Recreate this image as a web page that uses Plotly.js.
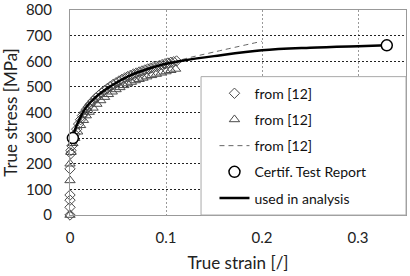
<!DOCTYPE html>
<html>
<head>
<meta charset="utf-8">
<script src="https://cdn.plot.ly/plotly-3.0.1.min.js"></script>
<style>html,body{margin:0;padding:0;background:#fff;}#chart{width:410px;height:276px;}</style>
</head>
<body>
<div id="chart"></div>
<script>
// Series "from [12]" (diamonds)
const diamondStrain = [0,0,0,0,0,0.001,0.001,0.002,0.003,0.005,0.007,0.009,0.011,0.013,0.015,0.017,0.019,0.021,0.024,0.027,0.030,0.033,0.036,0.039,0.042,0.045,0.048,0.051,0.054,0.057,0.060,0.063,0.066,0.069,0.072,0.075,0.078,0.081,0.084,0.087,0.090,0.093,0.096,0.099,0.102,0.105,0.108,0.111];
const diamondStress = [0,30,58,78,180,240,252,270,290,315,335,355,372,388,400,412,422,432,445,457,467,477,486,494,502,510,516,523,529,535,540,545,550,554,558,562,566,570,573,577,580,583,587,590,593,596,598,601];
// Series "from [12]" (triangles)
const triStrain = [0,0,0,0.001,0.003,0.005,0.008,0.011,0.014,0.017,0.020,0.024,0.028,0.032,0.036,0.040,0.044,0.048,0.052,0.056,0.060,0.064,0.068,0.072,0.076,0.080,0.085,0.090,0.095,0.100,0.105,0.110];
const triStress = [0,135,200,245,280,300,325,350,370,388,402,418,433,447,460,471,481,490,498,506,513,519,525,530,535,540,545,550,555,560,565,570];
// Series "from [12]" (dashed line)
const dashStrain = [0.003,0.01,0.02,0.04,0.06,0.08,0.10,0.12,0.15,0.20];
const dashStress = [290,360,425,490,535,565,588,610,636,678];
// Certif. Test Report (circles)
const certStrain = [0.003,0.33];
const certStress = [300,662];
// used in analysis (solid line)
const usedStrain = [0.003,0.005,0.01,0.015,0.02,0.03,0.04,0.05,0.06,0.07,0.08,0.10,0.12,0.15,0.20,0.25,0.30,0.33];
const usedStress = [300,330,375,410,435,470,497,520,540,556,569,590,604,620,643,653,659,662];

const legendLabels = ['from [12]','from [12]','from [12]','Certif. Test Report','used in analysis'];
const xTicks = [0,0.1,0.2,0.3];
const xTickText = ['0','0.1','0.2','0.3'];
const yTicks = [0,100,200,300,400,500,600,700,800];

const FONT = 'Lato, "Open Sans", sans-serif';

const traces = [
  {x: diamondStrain, y: diamondStress, name: legendLabels[0], legendgroup:'a', legendrank:1, mode:'markers', cliponaxis:false,
   marker:{symbol:'diamond-open', size:8, color:'#4a4a4a', line:{width:1}}},
  {x: triStrain, y: triStress, name: legendLabels[1], legendgroup:'b', legendrank:2, mode:'markers', cliponaxis:false,
   marker:{symbol:'triangle-up-open', size:9, color:'#4a4a4a', line:{width:1}}},
  {x: dashStrain, y: dashStress, name: legendLabels[2], legendgroup:'c', legendrank:3, mode:'lines',
   line:{color:'#666', width:1, dash:'5px,4px', shape:'spline'}},
  {x: usedStrain, y: usedStress, name: legendLabels[4], legendgroup:'e', legendrank:5, mode:'lines', cliponaxis:false,
   line:{color:'#000', width:2.5, shape:'spline'}},
  {x: certStrain, y: certStress, name: legendLabels[3], legendgroup:'d', legendrank:4, mode:'markers', cliponaxis:false,
   marker:{symbol:'circle', size:11, color:'#fff', line:{color:'#000', width:1.5}}}
];

const layout = {
  width:410, height:276,
  margin:{l:70, r:4, t:10, b:61},
  paper_bgcolor:'#fff', plot_bgcolor:'#fff',
  font:{family:FONT, color:'#222', size:15},
  showlegend:true,
  legend:{
    x:0.43, xanchor:'left', y:0.67, yanchor:'top',
    bgcolor:'rgba(0,0,0,0)', borderwidth:0,
    font:{family:FONT, size:14, color:'#111'},
    tracegroupgap:5,
    traceorder:'grouped'
  },
  shapes:[
    {type:'rect', xref:'paper', yref:'paper', x0:0.39, x1:1, y0:0, y1:0.675,
     fillcolor:'#fff', line:{color:'#aaa', width:1}, layer:'above'}
  ],
  xaxis:{
    range:[0,0.35], tickvals:xTicks, ticktext:xTickText,
    showgrid:true, gridcolor:'#999', griddash:'2px,2px', gridwidth:1,
    showline:true, linecolor:'#999', linewidth:1, mirror:true,
    zeroline:false, ticks:'', ticklabelstandoff:9, ticklabeloverflow:'allow',
    tickfont:{size:15, color:'#222'},
    title:{text:'True strain [/]', font:{size:17, color:'#222'}, standoff:12}
  },
  yaxis:{
    range:[0,800], tickvals:yTicks,
    showgrid:true, gridcolor:'#222', griddash:'2px,2px', gridwidth:1,
    showline:true, linecolor:'#999', linewidth:1, mirror:true,
    zeroline:false, ticks:'', ticklabelstandoff:14, ticklabeloverflow:'allow',
    tickfont:{size:15, color:'#222'},
    title:{text:'True stress [MPa]', font:{size:17, color:'#222'}, standoff:8}
  }
};

Plotly.newPlot('chart', traces, layout, {displayModeBar:false, staticPlot:true});
</script>
</body>
</html>
